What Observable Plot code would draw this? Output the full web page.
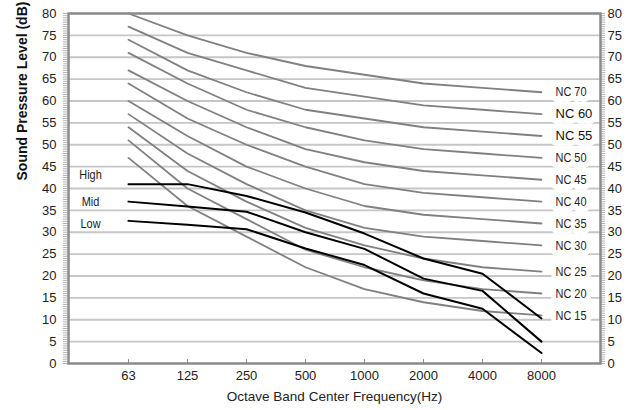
<!DOCTYPE html>
<html>
<head>
<meta charset="utf-8">
<script src="https://cdn.jsdelivr.net/npm/d3@7"></script>
<script src="https://cdn.jsdelivr.net/npm/@observablehq/plot@0.6"></script>
<style>
  html, body { margin: 0; padding: 0; background: #fff; }
</style>
</head>
<body>
<div id="chart"></div>
<script>
// Octave band centre frequencies (x categories)
const freqs = ["63", "125", "250", "500", "1000", "2000", "4000", "8000"];
const yTicks = [0, 5, 10, 15, 20, 25, 30, 35, 40, 45, 50, 55, 60, 65, 70, 75, 80];

// NC reference curves (dB), one value per octave band
const nc15 = [47, 36, 29, 22, 17, 14, 12, 11];
const nc20 = [51, 40, 33, 26, 22, 19, 17, 16];
const nc25 = [54, 44, 37, 31, 27, 24, 22, 21];
const nc30 = [57, 48, 41, 35, 31, 29, 28, 27];
const nc35 = [60, 52, 45, 40, 36, 34, 33, 32];
const nc40 = [64, 56, 50, 45, 41, 39, 38, 37];
const nc45 = [67, 60, 54, 49, 46, 44, 43, 42];
const nc50 = [71, 64, 58, 54, 51, 49, 48, 47];
const nc55 = [74, 67, 62, 58, 56, 54, 53, 52];
const nc60 = [77, 71, 67, 63, 61, 59, 58, 57];
const nc70 = [80, 75, 71, 68, 66, 64, 63, 62];

const ncNames = ["NC 15", "NC 20", "NC 25", "NC 30", "NC 35", "NC 40", "NC 45", "NC 50", "NC 55", "NC 60", "NC 70"];
const ncValues = [nc15, nc20, nc25, nc30, nc35, nc40, nc45, nc50, nc55, nc60, nc70];

// Measured fan speed spectra (dB)
const high = [41, 41, 38.3, 34.5, 29.7, 24, 20.5, 10.3];
const mid  = [37, 35.9, 34.7, 30, 26.2, 19.4, 16.6, 5];
const low  = [32.6, 31.7, 30.7, 26.3, 22.5, 16, 12.5, 2.4];
const speedNames = ["High", "Mid", "Low"];
const speedValues = [high, mid, low];

// ---- build tables for the library ----
const ncData = ncNames.flatMap((name, k) => ncValues[k].map((v, i) => ({name, freq: freqs[i], value: v})));
const ncEnds = ncNames.map((name, k) => ({name, freq: freqs[freqs.length - 1], value: ncValues[k][ncValues[k].length - 1]}));
const wideLabels = ["NC 60", "NC 55"];
const ncEndsNarrow = ncEnds.filter(d => !wideLabels.includes(d.name));
const ncEndsWide = ncEnds.filter(d => wideLabels.includes(d.name));
const speedData = speedNames.flatMap((name, k) => speedValues[k].map((v, i) => ({name, freq: freqs[i], value: v})));
const speedStarts = speedNames.map((name, k) => ({name, freq: freqs[0], value: speedValues[k][0]}));

const REG = "'Liberation Sans', Arial, sans-serif";
const NARROW = "'Liberation Sans Narrow', 'Arial Narrow', 'Liberation Sans', Arial, sans-serif";
const speedDy = {High: -9, Mid: 0, Low: 3};

const labelBox = {fill: "white", stroke: "white", strokeWidth: 12, strokeLinejoin: "round"};

const chart = Plot.plot({
  width: 641,
  height: 410,
  marginLeft: 68,
  marginRight: 41,
  marginTop: 13,
  marginBottom: 47,
  style: {fontFamily: REG, fontSize: "13px", color: "#222", background: "white"},
  x: {type: "point", domain: freqs, padding: 1},
  y: {domain: [0, 80]},
  marks: [
    Plot.ruleY(yTicks.filter(t => t > 0 && t < 80), {stroke: "#c6c6c6", strokeWidth: 1.8}),
    // white boxes behind NC labels
    Plot.text(ncEndsNarrow, {x: "freq", y: "value", text: "name", dx: 14, textAnchor: "start", fontFamily: NARROW, fontSize: 13, ...labelBox}),
    Plot.text(ncEndsWide, {x: "freq", y: "value", text: "name", dx: 14, textAnchor: "start", fontFamily: REG, fontSize: 13, ...labelBox}),
    Plot.ruleX(freqs, {x: d => d, y1: 0, y2: 0.9, stroke: "#8a8a8a", strokeWidth: 1}),
    Plot.line(ncData, {x: "freq", y: "value", z: "name", stroke: "#808080", strokeWidth: 1.8}),
    Plot.line(speedData, {x: "freq", y: "value", z: "name", stroke: "#000", strokeWidth: 2}),
    Plot.text(ncEndsNarrow, {x: "freq", y: "value", text: "name", dx: 14, textAnchor: "start", fontFamily: NARROW, fontSize: 13, fill: "#222"}),
    Plot.text(ncEndsWide, {x: "freq", y: "value", text: "name", dx: 14, textAnchor: "start", fontFamily: REG, fontSize: 13, fill: "#111"}),
    ...speedStarts.map(d => Plot.text([d], {x: "freq", y: "value", text: "name", dx: -38, dy: speedDy[d.name], textAnchor: "middle", fontFamily: NARROW, fontSize: 13, fill: "#222"})),
    Plot.frame({stroke: "#8a8a8a", strokeWidth: 2.5}),
    Plot.axisY({anchor: "left", ticks: d3.range(0, 80.01, 0.5), tickSize: 5, tickFormat: () => "", label: null, stroke: "#a0a0a0", strokeWidth: 0.8}),
    Plot.axisY({anchor: "right", ticks: d3.range(0, 80.01, 0.5), tickSize: 4, tickFormat: () => "", label: null, stroke: "#a0a0a0", strokeWidth: 0.8}),
    Plot.axisY({anchor: "left", ticks: yTicks, tickSize: 0, tickPadding: 12, fontSize: 13, label: null}),
    Plot.axisY({anchor: "right", ticks: yTicks, tickSize: 0, tickPadding: 7, fontSize: 13, label: null}),
    Plot.axisX({anchor: "bottom", tickSize: 0, tickPadding: 7, fontSize: 13, label: null}),
    Plot.text(["Sound Pressure Level (dB)"], {frameAnchor: "left", rotate: -90, dx: -46, dy: -8, fontWeight: "bold", fontSize: 14, fill: "#111"}),
    Plot.text(["Octave Band Center Frequency(Hz)"], {frameAnchor: "bottom", dy: 37, fontSize: 13.5, fill: "#222"})
  ]
});
document.getElementById("chart").appendChild(chart);

// If no condensed face is installed, condense the "narrow" labels to match the reference.
(function () {
  const ctx = document.createElement("canvas").getContext("2d");
  ctx.font = "13px 'Liberation Sans Narrow', 'Liberation Sans'";
  const wn = ctx.measureText("NC 70").width;
  ctx.font = "13px 'Liberation Sans'";
  const wr = ctx.measureText("NC 70").width;
  if (wn < wr * 0.95) return;
  chart.querySelectorAll("g[font-family*='Narrow'] text").forEach(t => {
    const w = t.getComputedTextLength();
    t.setAttribute("textLength", (w * 0.84).toFixed(2));
    t.setAttribute("lengthAdjust", "spacingAndGlyphs");
  });
})();
</script>
</body>
</html>
